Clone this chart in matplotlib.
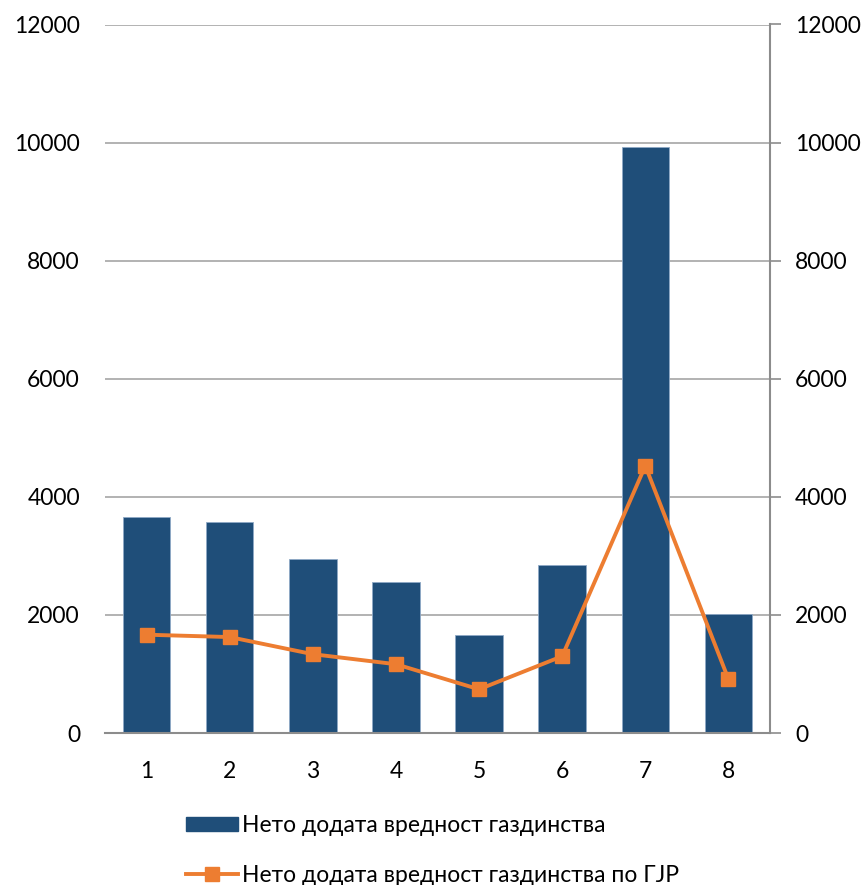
import matplotlib
matplotlib.use("Agg")
import matplotlib.pyplot as plt
from matplotlib.patches import Patch
from matplotlib.lines import Line2D

categories = ["1", "2", "3", "4", "5", "6", "7", "8"]
bar_values = [3660, 3575, 2950, 2555, 1655, 2850, 9930, 2020]
line_values = [1665, 1625, 1335, 1165, 740, 1300, 4525, 912]
yticks = [0, 2000, 4000, 6000, 8000, 10000, 12000]
bar_label = "Нето додата вредност газдинства"
line_label = "Нето додата вредност газдинства по ГЈР"

plt.rcParams['font.family'] = ['Lato', 'DejaVu Sans']
bar_color = "#1F4E79"
line_color = "#ED7D31"
grid_color = "#A6A6A6"

W, H = 866, 885
fig = plt.figure(figsize=(W/100, H/100), dpi=100)
ax = fig.add_axes([105/W, 1-733/H, (770-105)/W, (733-24.5)/H])

x = list(range(len(categories)))
ax.bar(x, bar_values, width=0.57, color=bar_color, edgecolor="#8FA9C6", linewidth=0.6, zorder=2)
ax.set_xlim(-0.5, len(categories)-0.5)
ax.set_ylim(0, 12000)
ax.set_yticks(yticks)
ax.set_xticks(x)
ax.set_xticklabels(categories)
ax.yaxis.grid(True, color=grid_color, linewidth=1.2, zorder=0)
ax.set_axisbelow(True)
for s in ["top", "right", "left"]:
    ax.spines[s].set_visible(False)
ax.spines["bottom"].set_color("#8C8C8C")
ax.spines["bottom"].set_linewidth(1.5)
ax.tick_params(axis="y", length=0, pad=18, labelsize=16.5)
ax.tick_params(axis="x", length=0, pad=20, labelsize=16.5)

ax2 = ax.twinx()
ax2.set_ylim(0, 12000)
ax2.set_yticks(yticks)
for s in ["top", "left", "bottom"]:
    ax2.spines[s].set_visible(False)
ax2.spines["right"].set_color("#8C8C8C")
ax2.spines["right"].set_linewidth(1.5)
ax2.tick_params(axis="y", length=8, width=1.2, color="#8C8C8C", pad=10, labelsize=16.5, direction="out")
ax2.plot(x, line_values, color=line_color, linewidth=2.8, marker="s", markersize=10, zorder=5)

handles = [Patch(facecolor=bar_color, edgecolor=bar_color),
           Line2D([0], [0], color=line_color, linewidth=2.8, marker="s", markersize=10)]
fig.legend(handles, [bar_label, line_label], loc="upper left",
           bbox_to_anchor=(186/W, 1-815/H), frameon=False, fontsize=16.5,
           handlelength=2.25, handleheight=0.6, handletextpad=0.2, labelspacing=1.25,
           borderaxespad=0, borderpad=0)

fig.savefig("out.png", dpi=100)
